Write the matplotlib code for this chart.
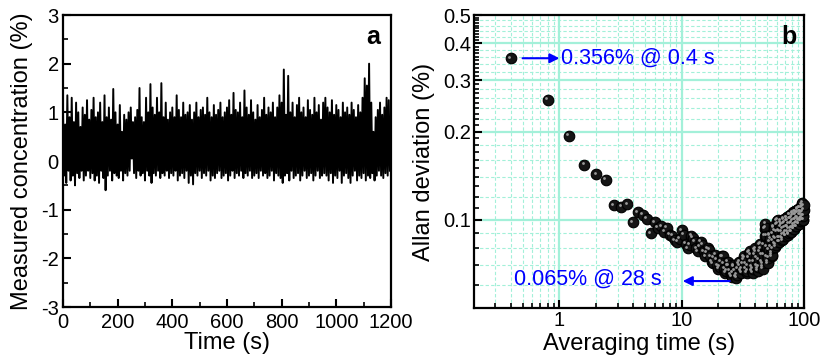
import matplotlib
matplotlib.use('Agg')
import matplotlib.pyplot as plt
import numpy as np
from matplotlib.ticker import FixedLocator, MultipleLocator, LogLocator, NullFormatter
from matplotlib.transforms import offset_copy

plt.rcParams['font.family'] = ['Liberation Sans', 'DejaVu Sans']
plt.rcParams['axes.unicode_minus'] = False

# panel a: measured concentration (%), peaks at t = 0, 8, 16 ... s, troughs at t = 4, 12, 20 ... s
peaks = [1.05, 0.75, 1.35, 0.9, 1.3, 0.8, 1.2, 1.0, 0.7, 1.1,
         0.95, 1.25, 0.85, 1.05, 1.3, 0.9, 1.0, 1.2, 0.8, 1.35,
         0.9, 1.1, 0.85, 1.48, 1.0, 0.75, 1.15, 0.6, 0.95, 0.85,
         1.0, 1.1, 0.8, 0.9, 1.05, 1.5, 0.9, 0.8, 1.3, 1.0,
         1.58, 1.1, 0.95, 1.3, 1.0, 1.6, 0.9, 1.2, 0.85, 1.0,
         1.1, 0.9, 1.35, 1.05, 0.9, 1.2, 0.95, 1.0, 1.15, 0.85,
         1.0, 1.2, 0.9, 1.05, 1.1, 0.95, 1.3, 1.0, 0.9, 1.15,
         0.95, 1.05, 1.2, 0.9, 1.0, 1.1, 1.25, 0.95, 1.4, 1.05,
         1.0, 1.2, 0.9, 1.45, 1.1, 0.95, 1.25, 1.0, 0.85, 1.15,
         0.9, 1.05, 1.3, 0.95, 1.1, 1.0, 1.2, 0.9, 1.1, 1.35,
         1.2, 1.88, 0.95, 1.75, 1.0, 1.2, 0.9, 1.15, 1.3, 1.0,
         1.1, 0.9, 1.25, 1.05, 0.95, 1.3, 1.0, 1.15, 0.85, 1.2,
         1.3, 1.1, 1.0, 1.25, 0.95, 1.15, 1.05, 0.9, 1.2, 1.0,
         1.1, 0.95, 1.2, 1.05, 0.9, 1.15, 1.0, 1.3, 1.7, 1.55,
         2.0, 1.2, 0.6, 0.9, 1.05, 1.2, 0.95, 1.1, 1.3, 1.25]
troughs = [-0.3, -0.45, -0.2, -0.4, -0.3, -0.5, -0.25, -0.35, -0.2, -0.4,
           -0.3, -0.2, -0.35, -0.25, -0.4, -0.3, -0.45, -0.2, -0.35, -0.6,
           -0.3, -0.2, -0.4, -0.25, -0.3, -0.35, -0.2, -0.4, -0.25, -0.3,
           -0.2, 0.05, -0.25, -0.35, -0.2, -0.3, -0.25, -0.4, -0.2, -0.3,
           -0.45, -0.25, -0.3, -0.2, -0.35, -0.25, -0.3, -0.2, -0.35, -0.25,
           -0.3, -0.2, -0.4, -0.3, -0.25, -0.35, -0.2, -0.45, -0.3, -0.48,
           -0.25, -0.3, -0.2, -0.35, -0.25, -0.3, -0.2, -0.4, -0.3, -0.35,
           -0.25, -0.2, -0.35, -0.3, -0.25, -0.4, -0.3, -0.2, -0.35, -0.25,
           -0.3, -0.2, -0.35, -0.25, -0.3, -0.2, -0.35, -0.3, -0.25, -0.35,
           -0.2, -0.3, -0.25, -0.35, -0.3, -0.2, -0.4, -0.25, -0.3, -0.35,
           -0.45, -0.3, -0.25, -0.4, -0.2, -0.35, -0.3, -0.25, -0.4, -0.3,
           -0.2, -0.35, -0.3, -0.25, -0.4, -0.3, -0.2, -0.35, -0.3, -0.25,
           -0.3, -0.4, -0.25, -0.45, -0.3, -0.35, -0.2, -0.45, -0.3, -0.25,
           -0.35, -0.45, -0.3, -0.2, -0.4, -0.3, -0.35, -0.25, -0.4, -0.3,
           -0.35, -0.25, -0.4, -0.3, -0.2, -0.3, -0.35, -0.25, -0.3, -0.2]

# panel b: Allan deviation (%) at averaging times 0.4, 0.8 ... 100 s
adev = [0.356, 0.257, 0.193, 0.154, 0.143, 0.137, 0.112, 0.111, 0.113, 0.098,
        0.106, 0.104, 0.101, 0.090, 0.098, 0.094, 0.095, 0.091, 0.094, 0.089,
        0.088, 0.085, 0.084, 0.086, 0.092, 0.089, 0.083, 0.080, 0.082, 0.088,
        0.087, 0.084, 0.080, 0.078, 0.081, 0.084, 0.082, 0.078, 0.075, 0.077,
        0.080, 0.079, 0.075, 0.072, 0.071, 0.074, 0.076, 0.073, 0.070, 0.068,
        0.069, 0.072, 0.075, 0.075, 0.071, 0.068, 0.066, 0.067, 0.070, 0.072,
        0.070, 0.067, 0.065, 0.064, 0.066, 0.069, 0.070, 0.067, 0.064, 0.0635,
        0.065, 0.068, 0.071, 0.072, 0.070, 0.067, 0.066, 0.068, 0.071, 0.073,
        0.075, 0.074, 0.071, 0.068, 0.066, 0.067, 0.070, 0.074, 0.077, 0.078,
        0.076, 0.072, 0.069, 0.067, 0.066, 0.068, 0.072, 0.076, 0.079, 0.080,
        0.078, 0.074, 0.070, 0.068, 0.067, 0.069, 0.073, 0.078, 0.082, 0.083,
        0.080, 0.076, 0.072, 0.069, 0.068, 0.071, 0.076, 0.082, 0.088, 0.093,
        0.097, 0.094, 0.088, 0.081, 0.075, 0.072, 0.071, 0.074, 0.079, 0.084,
        0.088, 0.089, 0.086, 0.081, 0.077, 0.075, 0.076, 0.080, 0.085, 0.090,
        0.094, 0.095, 0.092, 0.087, 0.083, 0.081, 0.082, 0.086, 0.091, 0.096,
        0.099, 0.100, 0.097, 0.092, 0.087, 0.084, 0.084, 0.087, 0.091, 0.095,
        0.098, 0.099, 0.096, 0.091, 0.087, 0.085, 0.086, 0.089, 0.093, 0.097,
        0.100, 0.101, 0.098, 0.094, 0.090, 0.088, 0.088, 0.091, 0.095, 0.099,
        0.102, 0.102, 0.099, 0.095, 0.091, 0.089, 0.090, 0.093, 0.097, 0.101,
        0.104, 0.104, 0.101, 0.097, 0.093, 0.091, 0.091, 0.094, 0.098, 0.102,
        0.105, 0.106, 0.103, 0.099, 0.095, 0.093, 0.093, 0.096, 0.100, 0.104,
        0.107, 0.107, 0.104, 0.100, 0.097, 0.095, 0.095, 0.098, 0.102, 0.106,
        0.108, 0.109, 0.106, 0.102, 0.099, 0.097, 0.097, 0.100, 0.104, 0.107,
        0.110, 0.110, 0.107, 0.104, 0.101, 0.099, 0.099, 0.102, 0.106, 0.110,
        0.113, 0.114, 0.111, 0.107, 0.103, 0.100, 0.100, 0.103, 0.108, 0.112]

conc = np.empty(len(peaks) + len(troughs))
conc[0::2] = peaks
conc[1::2] = troughs
t = np.arange(len(conc)) * 4.0
tau = np.arange(1, len(adev) + 1) * 0.4

fig = plt.figure(figsize=(8.21, 3.60), dpi=100)
ax1 = fig.add_axes([0.0767, 0.1472, 0.3995, 0.8111])
ax2 = fig.add_axes([0.5773, 0.1444, 0.4019, 0.8139])

tick_fs = 14.5
lab_fs = 17

# ---- panel a
ax1.plot(t, conc, color='black', lw=1.4)
ax1.set_xlim(0, 1200)
ax1.set_ylim(-3, 3)
ax1.xaxis.set_major_locator(MultipleLocator(200))
ax1.xaxis.set_minor_locator(MultipleLocator(100))
ax1.yaxis.set_major_locator(MultipleLocator(1))
ax1.yaxis.set_minor_locator(MultipleLocator(0.5))
ax1.set_xlabel('Time (s)', fontsize=lab_fs)
ax1.set_ylabel('Measured concentration (%)', fontsize=lab_fs)
ax1.xaxis.set_label_coords(0.5, -0.085)
ax1.yaxis.set_label_coords(-0.092, 0.5)
ax1.text(0.945, 0.925, 'a', transform=ax1.transAxes, fontsize=18,
         fontweight='bold', ha='center', va='center')

# ---- panel b
ax2.set_xscale('log')
ax2.set_yscale('log')
ax2.set_xlim(0.2, 100)
ax2.set_ylim(0.05, 0.5)

grid_c = '#a3f0d9'
for x in [1, 10]:
    ax2.axvline(x, color=grid_c, lw=1.6, zorder=0)
for y in [0.1, 0.2, 0.3, 0.4]:
    ax2.axhline(y, color=grid_c, lw=1.6, zorder=0)
for d in [0.1, 1, 10]:
    for m in range(2, 10):
        if 0.2 < m * d < 100:
            ax2.axvline(m * d, color=grid_c, lw=0.8, ls=(0, (3, 2)), zorder=0)
for y in [0.06, 0.07, 0.08, 0.09, 0.12, 0.14, 0.16, 0.18, 0.22, 0.24, 0.26,
          0.28, 0.32, 0.34, 0.36, 0.38, 0.42, 0.44, 0.46, 0.48]:
    ax2.axhline(y, color=grid_c, lw=0.8, ls=(0, (3, 2)), zorder=0)

ax2.plot(tau, adev, 'o', ms=7.6, mfc='#151515', mec='black', mew=0.8,
         zorder=3, clip_on=False)
hl = offset_copy(ax2.transData, fig=fig, x=-1.2, y=1.2, units='points')
ax2.plot(tau, adev, 'o', ms=2.0, mfc='#9a9a9a', mec='none', transform=hl,
         zorder=4, clip_on=False)

ax2.xaxis.set_major_locator(FixedLocator([1, 10, 100]))
ax2.set_xticklabels(['1', '10', '100'])
ax2.xaxis.set_minor_locator(LogLocator(base=10, subs=np.arange(2, 10), numticks=20))
ax2.xaxis.set_minor_formatter(NullFormatter())
ax2.yaxis.set_major_locator(FixedLocator([0.1, 0.2, 0.3, 0.4, 0.5]))
ax2.set_yticklabels(['0.1', '0.2', '0.3', '0.4', '0.5'])
ymin = list(np.round(np.arange(0.05, 0.1, 0.01), 3)) + \
       list(np.round(np.arange(0.11, 0.2, 0.01), 3)) + \
       list(np.round(np.arange(0.21, 0.5, 0.01), 3))
ax2.yaxis.set_minor_locator(FixedLocator(ymin))
ax2.yaxis.set_minor_formatter(NullFormatter())
ax2.set_xlabel('Averaging time (s)', fontsize=lab_fs)
ax2.set_ylabel('Allan deviation (%)', fontsize=lab_fs)
ax2.xaxis.set_label_coords(0.5, -0.085)
ax2.yaxis.set_label_coords(-0.118, 0.5)
ax2.text(0.955, 0.925, 'b', transform=ax2.transAxes, fontsize=18,
         fontweight='bold', ha='center', va='center')

ax2.annotate('', xy=(1.0, 0.356), xytext=(0.5, 0.356),
             arrowprops=dict(arrowstyle='-|>', color='blue', lw=1.5,
                             mutation_scale=14, shrinkA=0, shrinkB=0))
ax2.text(1.04, 0.356, '0.356% @ 0.4 s', color='blue', fontsize=15.5,
         ha='left', va='center')
ax2.annotate('', xy=(10.2, 0.0618), xytext=(24.7, 0.0618),
             arrowprops=dict(arrowstyle='-|>', color='blue', lw=1.5,
                             mutation_scale=14, shrinkA=0, shrinkB=0))
ax2.text(6.85, 0.0628, '0.065% @ 28 s', color='blue', fontsize=15.5,
         ha='right', va='center')

for ax in (ax1, ax2):
    for s in ax.spines.values():
        s.set_linewidth(1.6)
    ax.tick_params(which='major', direction='in', length=6, width=1.5,
                   labelsize=tick_fs, top=False, right=False, pad=2)
    ax.tick_params(which='minor', direction='in', length=3.5, width=1.2,
                   top=False, right=False)
ax1.tick_params(axis='x', which='major', pad=4)
ax1.tick_params(axis='y', which='major', pad=3)

fig.savefig('out.png', dpi=100)
